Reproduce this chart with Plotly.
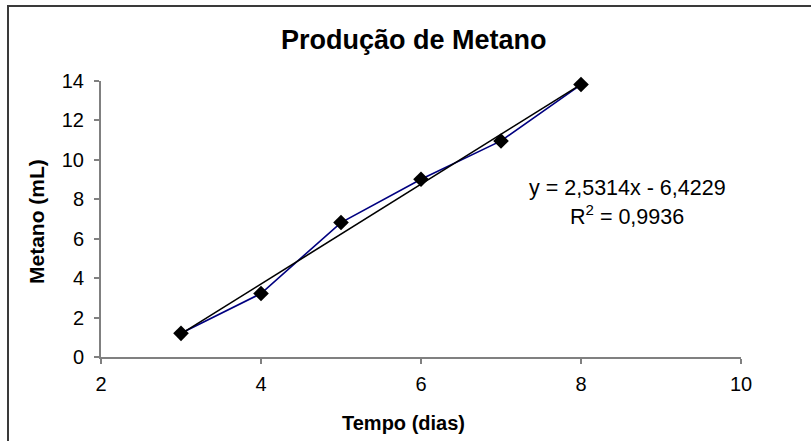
import plotly.graph_objects as go

# Data
tempo_dias = [3, 4, 5, 6, 7, 8]
metano_ml = [1.2, 3.22, 6.82, 9.02, 10.96, 13.82]
trend_slope = 2.5314
trend_intercept = -6.4229
r_squared = 0.9936
x_ticks = [2, 4, 6, 8, 10]
y_ticks = [0, 2, 4, 6, 8, 10, 12, 14]

trend_x = [min(tempo_dias), max(tempo_dias)]
trend_y = [trend_slope * v + trend_intercept for v in trend_x]

FONT = "Liberation Sans, Arial, sans-serif"

fig = go.Figure()
fig.add_trace(go.Scatter(
    x=tempo_dias, y=metano_ml, mode="lines+markers",
    line=dict(color="#000080", width=1.6),
    marker=dict(symbol="diamond", size=12, color="black"),
    showlegend=False, cliponaxis=False,
))
fig.add_trace(go.Scatter(
    x=trend_x, y=trend_y, mode="lines",
    line=dict(color="black", width=1.6),
    showlegend=False, cliponaxis=False,
))

fmt = lambda v: f"{v:.4f}".replace(".", ",")
eq_text = f"y = {fmt(trend_slope)}x - {fmt(abs(trend_intercept))}"
r2_text = f"R<sup>2</sup> = {fmt(r_squared)}"

L, R, T, B = 101, 70, 81, 84
W, H = 811, 441
pw, ph = W - L - R, H - T - B

def px(xp):
    return (xp - L) / pw

def py(yp):
    return (H - B - yp) / ph

fig.update_layout(
    width=W, height=H,
    margin=dict(l=L, r=R, t=T, b=B),
    paper_bgcolor="white", plot_bgcolor="white",
    font=dict(family=FONT, size=20, color="black"),
    xaxis=dict(
        range=[2, 10], tickvals=x_ticks, ticktext=[str(v) for v in x_ticks],
        showgrid=False, zeroline=False, showline=True, linecolor="#808080", linewidth=2,
        ticks="outside", ticklen=5, tickcolor="#808080", tickwidth=2,
        ticklabelstandoff=3,
        tickfont=dict(family=FONT, size=20, color="black"),
    ),
    yaxis=dict(
        range=[0, 14], tickvals=y_ticks, ticktext=[str(v) for v in y_ticks],
        showgrid=False, zeroline=False, showline=True, linecolor="#808080", linewidth=2,
        ticks="outside", ticklen=5, tickcolor="#808080", tickwidth=2,
        ticklabelstandoff=6,
        tickfont=dict(family=FONT, size=20, color="black"),
    ),
    shapes=[dict(
        type="rect", xref="paper", yref="paper",
        x0=px(8), x1=px(830), y0=py(460), y1=py(6),
        line=dict(color="#3a3a3a", width=2), fillcolor="rgba(0,0,0,0)", layer="below",
    )],
    annotations=[
        dict(text="<b>Produção de Metano</b>", xref="paper", yref="paper",
             x=px(414), y=py(40), showarrow=False, xanchor="center", yanchor="middle",
             font=dict(family=FONT, size=27, color="black")),
        dict(text="<b>Tempo (dias)</b>", xref="paper", yref="paper",
             x=px(403), y=py(423), showarrow=False, xanchor="center", yanchor="middle",
             font=dict(family=FONT, size=20, color="black")),
        dict(text="<b>Metano (mL)</b>", xref="paper", yref="paper",
             x=px(36), y=py(222), showarrow=False, xanchor="center", yanchor="middle",
             textangle=-90, font=dict(family=FONT, size=21, color="black")),
        dict(text=eq_text, xref="paper", yref="paper",
             x=px(627), y=py(188), showarrow=False, xanchor="center", yanchor="middle",
             font=dict(family=FONT, size=21.5, color="black")),
        dict(text=r2_text, xref="paper", yref="paper",
             x=px(627), y=py(215), showarrow=False, xanchor="center", yanchor="middle",
             font=dict(family=FONT, size=21.5, color="black")),
    ],
)

fig.write_html("out.html", config={"displayModeBar": False},
               post_script="document.body.style.margin='0';")
